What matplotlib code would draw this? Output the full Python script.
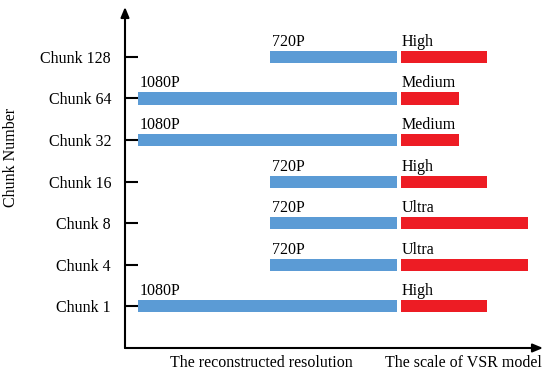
import matplotlib.pyplot as plt

# chunk rows, bottom to top
chunks = ['Chunk 1', 'Chunk 4', 'Chunk 8', 'Chunk 16', 'Chunk 32', 'Chunk 64', 'Chunk 128']
resolutions = ['1080P', '720P', '720P', '720P', '1080P', '1080P', '720P']
scales = ['High', 'Ultra', 'Ultra', 'High', 'Medium', 'Medium', 'High']

# bar lengths (720P bar = 1 unit)
res_len = {'1080P': 2.04, '720P': 1.0}
scale_len = {'Ultra': 1.0, 'High': 0.68, 'Medium': 0.46}

blue = '#5B9BD5'
red = '#ED1C24'
gap = 0.03
bh = 0.29
fs = 11.5

plt.rcParams['font.family'] = ['Liberation Serif', 'DejaVu Serif']

fig = plt.figure(figsize=(5.5, 3.78), dpi=100)
ax = fig.add_axes([125/550, 30/378, 418/550, 341/378])

ypos = list(range(len(chunks)))
for y, r, s in zip(ypos, resolutions, scales):
    rl = res_len[r]
    sl = scale_len[s]
    ax.barh(y, rl, left=-rl, height=bh, color=blue, edgecolor='none')
    ax.barh(y, sl, left=gap, height=bh, color=red, edgecolor='none')
    ax.annotate(r, (-rl, y + bh/2), xytext=(1.5, 3.6), textcoords='offset points',
                ha='left', va='baseline', fontsize=fs)
    ax.annotate(s, (gap, y + bh/2), xytext=(1, 3.6), textcoords='offset points',
                ha='left', va='baseline', fontsize=fs)

ax.set_xlim(-2.14, 1.15)
ax.set_ylim(-1, 7.2)
ax.set_yticks(ypos)
ax.set_yticklabels(chunks, fontsize=fs)
ax.tick_params(axis='y', direction='in', length=9.5, width=1.5, pad=10)
ax.set_xticks([])
for sp in ax.spines.values():
    sp.set_visible(False)

# axis arrows
arrow = dict(arrowstyle='-|>,head_length=0.6,head_width=0.25', lw=1.5, color='black',
             shrinkA=0, shrinkB=0)
ax.annotate('', xy=(0, 1), xytext=(0, 0), xycoords='axes fraction', arrowprops=arrow)
ax.annotate('', xy=(1, 0), xytext=(0, 0), xycoords='axes fraction', arrowprops=arrow)

ax.set_ylabel('Chunk Number', fontsize=fs)
ax.yaxis.set_label_coords(-0.254, 0.56)
fig.text(261/550, 1 - 367/378, 'The reconstructed resolution', ha='center', va='baseline', fontsize=fs)
fig.text(463/550, 1 - 367/378, 'The scale of VSR model', ha='center', va='baseline', fontsize=fs)

fig.savefig('out.png', dpi=100)
